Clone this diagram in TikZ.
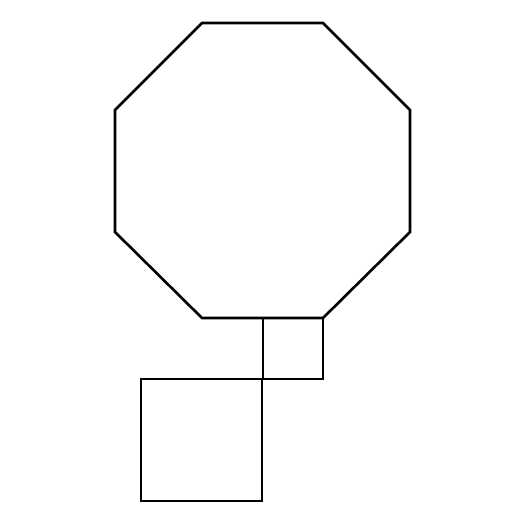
\documentclass[tikz,border=0pt]{standalone}
\usepackage{xcolor}
\definecolor{figink}{HTML}{000000}

\begin{document}
\begin{tikzpicture}[x=0.02cm, y=-0.02cm,
                    every path/.style={figink, line width=1.5pt, line join=miter}]

  \useasboundingbox (0,0) rectangle (525,525);

  %% ---- 八角形 ----
  \draw (202,23) -- (323,23) -- (410,110) -- (410,232)
        -- (323,318) -- (202,318) -- (115,232) -- (115,110) -- cycle;

  %% ---- 小方形: 貼著八角形的下邊 ----
  \draw (263,318) rectangle (323,379);

  %% ---- 大方形: 右上角接小方形的左下角 ----
  \draw (141,379) rectangle (262,501);

\end{tikzpicture}
\end{document}
